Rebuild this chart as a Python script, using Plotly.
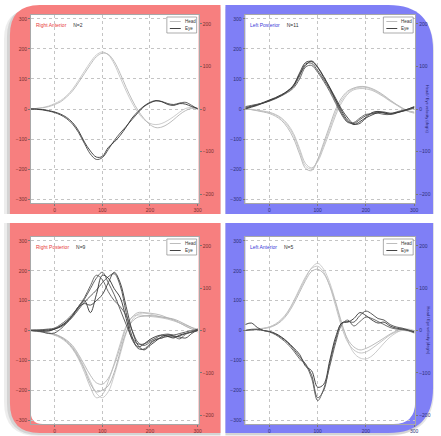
import plotly.graph_objects as go

W, H = 441, 436

# ---------------- data ----------------
X = [-50, -37.5, -25, -12.5, 0, 12.5, 25, 37.5, 50, 62.5, 75, 87.5, 100, 112.5, 125,
     137.5, 150, 162.5, 175, 187.5, 200, 212.5, 225, 237.5, 250, 262.5, 275, 287.5, 300]

X_TICKS = [0, 100, 200, 300]
Y_LEFT_TICKS = [-300, -200, -100, 0, 100, 200, 300]
Y_RIGHT_TICKS = [-200, -100, 0, 100, 200]

TITLES = ["Right Anterior", "Left Posterior", "Right Posterior", "Left Anterior"]
COUNTS = ["N=2", "N=11", "N=9", "N=5"]
LEGEND_NAMES = ["Head", "Eye"]
RIGHT_AXIS_LABEL = "Head / Eye velocity (deg/s)"

RA_HEAD = [
    [0, 2, 5, 10, 18, 28, 44, 66, 95, 126, 156, 180, 190, 180, 150, 105, 60, 20, -12, -35, -48, -52, -48, -38, -25, -10, 2, 5, 0],
    [0, 2, 4, 8, 15, 24, 40, 60, 88, 118, 148, 174, 186, 182, 158, 118, 72, 30, -5, -32, -52, -62, -60, -50, -35, -18, -5, 2, 0],
]
RA_EYE = [
    [0, -1, -3, -7, -12, -20, -32, -50, -78, -115, -150, -168, -162, -135, -105, -80, -58, -35, -12, 8, 20, 27, 25, 18, 15, 20, 22, 12, 0],
    [0, 0, -2, -5, -10, -17, -28, -45, -72, -110, -140, -160, -158, -128, -110, -88, -60, -30, -8, 10, 22, 28, 24, 15, 12, 18, 16, 8, 2],
]

LP_HEAD = [
    [0, -2, -5, -8, -12, -20, -33, -55, -88, -140, -190, -200, -170, -120, -65, -10, 30, 55, 68, 72, 72, 65, 55, 42, 28, 15, 2, -8, -12],
    [0, -2, -6, -10, -15, -24, -38, -62, -98, -150, -198, -205, -168, -112, -55, 0, 38, 60, 70, 75, 74, 68, 58, 45, 30, 16, 4, -6, -10],
    [0, -1, -4, -7, -11, -18, -30, -50, -82, -132, -182, -196, -175, -128, -75, -20, 22, 50, 64, 68, 67, 62, 52, 40, 26, 14, 2, -8, -14],
]
LP_EYE = [
    [5, 10, 15, 20, 28, 36, 45, 58, 75, 110, 150, 152, 128, 98, 65, 25, -15, -42, -48, -35, -22, -15, -10, -14, -16, -12, -8, -3, 5],
    [2, 8, 14, 22, 30, 38, 48, 60, 80, 120, 155, 158, 138, 105, 70, 30, -8, -38, -52, -42, -28, -12, -8, -12, -18, -14, -6, 0, 8],
    [8, 12, 16, 20, 26, 34, 44, 55, 70, 100, 140, 145, 122, 92, 58, 18, -20, -45, -45, -30, -18, -16, -14, -18, -18, -10, -5, -2, 2],
    [0, 6, 12, 20, 28, 36, 46, 60, 78, 115, 145, 160, 140, 108, 72, 35, -2, -30, -50, -48, -30, -20, -12, -10, -14, -12, -8, 0, 6],
]

RP_HEAD = [
    [0, -2, -5, -8, -14, -22, -35, -55, -85, -125, -170, -210, -225, -205, -150, -80, -10, 35, 55, 58, 55, 50, 45, 40, 35, 25, 15, 5, 0],
    [0, -2, -4, -8, -12, -20, -32, -50, -80, -115, -150, -175, -180, -160, -115, -55, 10, 45, 60, 60, 58, 55, 50, 42, 35, 25, 14, 5, -5],
    [0, -3, -6, -10, -16, -25, -40, -62, -95, -140, -190, -225, -215, -170, -110, -45, 15, 45, 52, 50, 47, 45, 42, 38, 32, 25, 18, 10, 5],
    [0, -2, -5, -9, -13, -22, -36, -58, -90, -130, -178, -205, -200, -185, -140, -70, -5, 30, 45, 48, 50, 48, 45, 42, 38, 30, 20, 10, 0],
]
RP_EYE = [
    [0, 0, 2, 3, 5, 12, 25, 45, 70, 95, 115, 135, 160, 180, 190, 150, 60, -20, -60, -62, -45, -30, -25, -20, -22, -18, -10, -5, 0],
    [0, 2, 0, -2, 5, 15, 28, 50, 80, 100, 60, 120, 185, 175, 140, 110, 40, -30, -55, -45, -30, -20, -15, -20, -25, -15, -10, -5, 5],
    [0, 0, 3, 5, 8, 20, 35, 55, 80, 110, 150, 185, 170, 130, 100, 80, 50, 0, -40, -50, -40, -30, -25, -15, -20, -28, -12, -5, 0],
    [0, -2, -3, 0, 5, 15, 30, 50, 78, 90, 85, 100, 120, 160, 195, 160, 80, 0, -50, -65, -50, -35, -20, -15, -18, -22, -25, -10, 2],
    [2, 0, -5, -10, -8, 5, 25, 50, 75, 105, 140, 175, 195, 160, 120, 70, 20, -25, -45, -45, -35, -25, -15, -12, -15, -10, -5, 0, 3],
]

LA_HEAD = [
    [0, 2, 5, 8, 12, 20, 35, 60, 95, 135, 175, 210, 225, 205, 160, 95, 25, -35, -75, -92, -95, -85, -65, -42, -22, -8, 2, 5, 0],
    [0, 1, 3, 6, 10, 18, 32, 55, 88, 128, 168, 198, 205, 190, 150, 90, 20, -30, -55, -65, -60, -50, -38, -25, -12, -2, 5, 3, -5],
    [0, 2, 4, 7, 12, 22, 38, 62, 98, 140, 180, 208, 215, 195, 148, 80, 10, -40, -65, -75, -72, -60, -45, -30, -15, -5, 0, -2, -8],
]
LA_EYE = [
    [0, 4, 4, 0, -4, -12, -24, -40, -62, -88, -112, -150, -225, -200, -110, -30, 25, 30, 28, 50, 65, 55, 40, 35, 20, 12, 8, 2, -5],
    [20, 25, 10, 0, -3, -10, -22, -38, -58, -80, -120, -135, -190, -180, -100, -20, 25, 28, 40, 60, 50, 35, 25, 28, 15, 8, 5, 0, -3],
    [0, 2, 3, 0, -5, -14, -28, -45, -68, -95, -115, -160, -235, -195, -120, -40, 20, 35, 15, 30, 45, 40, 30, 20, 10, 5, 3, 0, -8],
]

HEAD_SETS = [RA_HEAD, LP_HEAD, RP_HEAD, LA_HEAD]
EYE_SETS = [RA_EYE, LP_EYE, RP_EYE, LA_EYE]

# ---------------- styling / layout geometry (pixels) ----------------
RED = "#f77f7f"
BLUE = "#7f7ff6"
PANEL_COLORS = [RED, BLUE, RED, BLUE]
TITLE_COLORS = ["#e83a3a", "#3a3ad8", "#e83a3a", "#3a3ad8"]
TICK_COLORS = ["#7a2f2f", "#2f2f78", "#7a2f2f", "#2f2f78"]
HEAD_COLORS = ["#c6c6c6", "#b4b4b4", "#bebebe", "#acacac"]
EYE_COLORS = ["#4a4a4a", "#333333", "#5a5a5a", "#3c3c3c", "#505050"]

# plot areas: (left, top, right, bottom) in pixels
PLOTS = [(31, 15, 200, 203), (247, 15, 418, 203), (31, 237, 200, 424), (247, 237, 418, 424)]
# coloured panels and their rounded corners (tl, tr, br, bl)
PANELS = [((10, 5, 222, 214), (30, 0, 0, 0)),
          ((227, 5, 436, 214), (0, 45, 0, 0)),
          ((10, 223, 222, 433), (0, 0, 0, 30)),
          ((227, 223, 436, 433), (0, 0, 45, 0))]


def fx(px):
    return px / W


def fy(py):
    return 1 - py / H


def rr_path(x0, y0, x1, y1, tl=0, tr=0, br=0, bl=0):
    p = [f"M {fx(x0 + tl)} {fy(y0)}", f"L {fx(x1 - tr)} {fy(y0)}"]
    if tr:
        p.append(f"Q {fx(x1)} {fy(y0)} {fx(x1)} {fy(y0 + tr)}")
    p.append(f"L {fx(x1)} {fy(y1 - br)}")
    if br:
        p.append(f"Q {fx(x1)} {fy(y1)} {fx(x1 - br)} {fy(y1)}")
    p.append(f"L {fx(x0 + bl)} {fy(y1)}")
    if bl:
        p.append(f"Q {fx(x0)} {fy(y1)} {fx(x0)} {fy(y1 - bl)}")
    p.append(f"L {fx(x0)} {fy(y0 + tl)}")
    if tl:
        p.append(f"Q {fx(x0)} {fy(y0)} {fx(x0 + tl)} {fy(y0)}")
    p.append("Z")
    return " ".join(p)


fig = go.Figure()
shapes = []
annotations = []
layout = {}

# soft shadow of the whole frame
shapes.append(dict(type="path", xref="paper", yref="paper", layer="below",
                   path=rr_path(4, 9, 434, 436, 30, 45, 45, 34),
                   fillcolor="rgba(0,0,0,0.07)", line=dict(width=0)))
shapes.append(dict(type="path", xref="paper", yref="paper", layer="below",
                   path=rr_path(7, 7, 437, 435, 30, 45, 45, 32),
                   fillcolor="rgba(0,0,0,0.10)", line=dict(width=0)))
# white gaps between the panels
shapes.append(dict(type="rect", xref="paper", yref="paper", layer="below",
                   x0=fx(222), x1=fx(227), y0=fy(440), y1=fy(0),
                   fillcolor="white", line=dict(width=0)))
shapes.append(dict(type="rect", xref="paper", yref="paper", layer="below",
                   x0=fx(0), x1=fx(441), y0=fy(223), y1=fy(214),
                   fillcolor="white", line=dict(width=0)))

for i in range(4):
    (x0, y0, x1, y1), corners = PANELS[i]
    shapes.append(dict(type="path", xref="paper", yref="paper", layer="below",
                       path=rr_path(x0, y0, x1, y1, *corners),
                       fillcolor=PANEL_COLORS[i], line=dict(width=0)))
    l, t, r, b = PLOTS[i]
    shapes.append(dict(type="rect", xref="paper", yref="paper", layer="below",
                       x0=fx(l), x1=fx(r), y0=fy(b), y1=fy(t),
                       fillcolor="white", line=dict(width=0)))

# rounded inner corners of the bottom plot areas
l, t, r, b = PLOTS[2]
shapes.append(dict(type="path", xref="paper", yref="paper", layer="below",
                   path=f"M {fx(l)} {fy(b - 12)} Q {fx(l)} {fy(b)} {fx(l + 12)} {fy(b)} L {fx(l)} {fy(b)} Z",
                   fillcolor=RED, line=dict(width=0)))
l, t, r, b = PLOTS[3]
shapes.append(dict(type="path", xref="paper", yref="paper", layer="below",
                   path=f"M {fx(r)} {fy(b - 22)} Q {fx(r)} {fy(b)} {fx(r - 22)} {fy(b)} L {fx(r)} {fy(b)} Z",
                   fillcolor=BLUE, line=dict(width=0)))

for i in range(4):
    n = i + 1
    xid = "x" if n == 1 else f"x{n}"
    yid = "y" if n == 1 else f"y{n}"
    y2id = f"y{n + 4}"
    l, t, r, b = PLOTS[i]
    tc = TICK_COLORS[i]

    for k, ys in enumerate(HEAD_SETS[i]):
        fig.add_trace(go.Scatter(x=X, y=ys, xaxis=xid, yaxis=yid, mode="lines",
                                 line=dict(color=HEAD_COLORS[k % len(HEAD_COLORS)], width=0.9, shape="spline"),
                                 showlegend=False, hoverinfo="skip"))
    for k, ys in enumerate(EYE_SETS[i]):
        fig.add_trace(go.Scatter(x=X, y=ys, xaxis=xid, yaxis=yid, mode="lines",
                                 line=dict(color=EYE_COLORS[k % len(EYE_COLORS)], width=0.9, shape="spline"),
                                 showlegend=False, hoverinfo="skip"))
    # right axis carrier
    fig.add_trace(go.Scatter(x=[], y=[], xaxis=xid, yaxis=y2id, showlegend=False, hoverinfo="skip"))

    common = dict(showline=True, linecolor="#a8a8a8", linewidth=0.6, mirror=True,
                  zeroline=False, ticks="outside", ticklen=2, tickcolor="#777",
                  tickfont=dict(size=5, color=tc, family="Liberation Sans"))
    layout[f"xaxis{n}"] = dict(domain=[fx(l), fx(r)], anchor=yid, range=[-50, 302],
                               tickvals=X_TICKS, showgrid=True, gridcolor="#c4c4c4",
                               griddash="dot", gridwidth=0.6, **common)
    layout[f"yaxis{n}"] = dict(domain=[fy(b), fy(t)], anchor=xid, range=[-313, 313],
                               tickvals=Y_LEFT_TICKS, showgrid=True, gridcolor="#c4c4c4",
                               griddash="dot", gridwidth=0.6, **common)
    layout[f"yaxis{n + 4}"] = dict(overlaying=yid, anchor=xid, side="right", range=[-221, 221],
                                   tickvals=Y_RIGHT_TICKS, showgrid=False, zeroline=False,
                                   showline=False, ticks="outside", ticklen=2, tickcolor="#777",
                                   tickfont=dict(size=5, color=tc, family="Liberation Sans"))

    # panel title
    annotations.append(dict(xref="paper", yref="paper", x=fx(l + 3), y=fy(t + 10),
                            xanchor="left", yanchor="middle", showarrow=False,
                            text=f"<span style='color:{TITLE_COLORS[i]}'>{TITLES[i]}</span>     {COUNTS[i]}",
                            font=dict(size=5, color="#333", family="Liberation Sans")))
    # legend box
    shapes.append(dict(type="rect", xref="paper", yref="paper", layer="above",
                       x0=fx(r - 32), x1=fx(r - 2), y0=fy(t + 18), y1=fy(t + 2),
                       fillcolor="white", line=dict(color="#777", width=0.6)))
    for j, (nm, col) in enumerate(zip(LEGEND_NAMES, ["#bdbdbd", "#444444"])):
        yy = t + 6.5 + 7 * j
        shapes.append(dict(type="line", xref="paper", yref="paper", layer="above",
                           x0=fx(r - 29), x1=fx(r - 18), y0=fy(yy), y1=fy(yy),
                           line=dict(color=col, width=1)))
        annotations.append(dict(xref="paper", yref="paper", x=fx(r - 16), y=fy(yy),
                                xanchor="left", yanchor="middle", showarrow=False,
                                text=nm, font=dict(size=4.5, color="#333", family="Liberation Sans")))
    if PANEL_COLORS[i] == BLUE:
        annotations.append(dict(xref="paper", yref="paper", x=fx(431), y=fy((t + b) / 2),
                                xanchor="center", yanchor="middle", showarrow=False, textangle=90,
                                text=RIGHT_AXIS_LABEL,
                                font=dict(size=4, color="#22226a", family="Liberation Sans")))

fig.update_layout(width=W, height=H, autosize=False, margin=dict(l=0, r=0, t=0, b=0),
                  paper_bgcolor="white", plot_bgcolor="rgba(0,0,0,0)",
                  shapes=shapes, annotations=annotations, showlegend=False, **layout)

fig.write_html("out.html", config={"displayModeBar": False},
               post_script="document.body.style.margin='0';document.body.style.overflow='hidden';")
